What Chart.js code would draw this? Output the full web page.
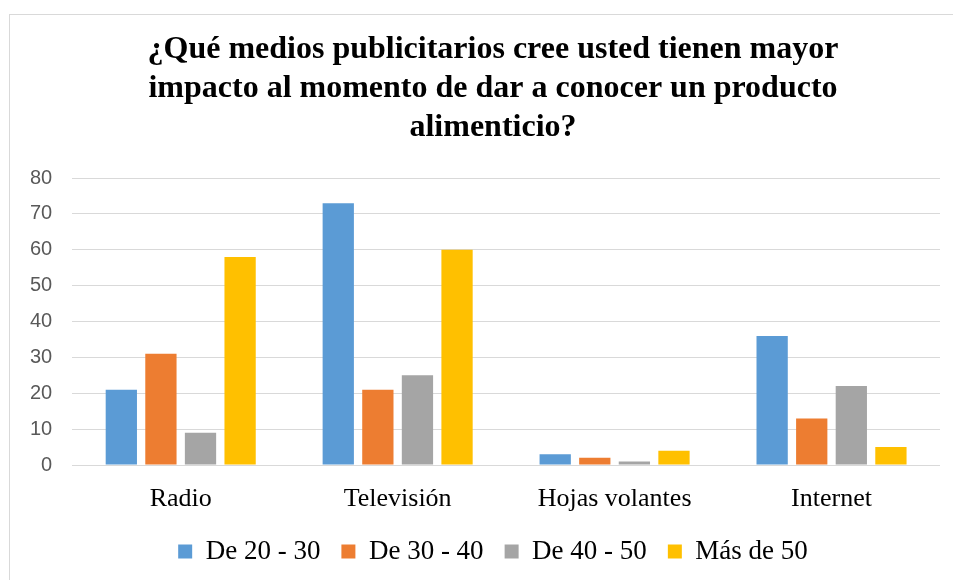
<!DOCTYPE html>
<html>
<head>
<meta charset="utf-8">
<script src="https://cdn.jsdelivr.net/npm/chart.js@4/dist/chart.umd.min.js"></script>
<style>
  html, body { margin: 0; padding: 0; background: #fff; overflow: hidden; }
  body { width: 953px; height: 580px; position: relative; }
  #frame { position: absolute; left: 9px; top: 14px; width: 968px; height: 580px;
           border: 1px solid #d9d9d9; box-sizing: border-box; }
  #wrap { position: absolute; left: 9px; top: 14px; width: 968px; height: 566px; }
</style>
</head>
<body>
<div id="frame"></div>
<div id="wrap"><canvas id="chart"></canvas></div>
<script>
// categories and series
const categories = ["Radio", "Televisión", "Hojas volantes", "Internet"];
const seriesNames = ["De 20 - 30", "De 30 - 40", "De 40 - 50", "Más de 50"];
const de20a30 = [21, 73, 3, 36];
const de30a40 = [31, 21, 2, 13];
const de40a50 = [9, 25, 1, 22];
const masDe50 = [58, 60, 4, 5];
const yTicks = [0, 10, 20, 30, 40, 50, 60, 70, 80];

const colors = ["#5B9BD5", "#ED7D31", "#A5A5A5", "#FFC000"];
const values = [de20a30, de30a40, de40a50, masDe50];
const serif = "'Liberation Serif', 'Times New Roman', serif";

const datasets = seriesNames.map((name, i) => ({
    label: name,
    data: values[i],
    backgroundColor: colors[i],
    borderWidth: 0,
    categoryPercentage: 0.73,
    barPercentage: 0.79,
}));

new Chart(document.getElementById("chart"), {
    type: "bar",
    data: { labels: categories, datasets: datasets },
    options: {
        responsive: true,
        maintainAspectRatio: false,
        animation: false,
        layout: { padding: { left: 1, right: 1, top: 0, bottom: 5 } },
        plugins: {
            title: {
                display: true,
                text: [
                    "¿Qué medios publicitarios cree usted tienen mayor",
                    "impacto al momento de dar a conocer un producto",
                    "alimenticio?",
                ],
                color: "#000",
                font: { family: serif, size: 32, weight: "bold", lineHeight: 1.22 },
                padding: { top: 16, bottom: 31 },
            },
            legend: {
                position: "bottom",
                labels: {
                    color: "#000",
                    font: { family: serif, size: 27 },
                    boxWidth: 14,
                    boxHeight: 14,
                    padding: 21,
                },
            },
            tooltip: { enabled: false },
        },
        scales: {
            x: {
                grid: { display: false },
                border: { display: false },
                afterFit: (axis) => { axis.height = 52; },
                ticks: {
                    color: "#000",
                    padding: 13,
                    font: { family: serif, size: 26, lineHeight: 1 },
                },
            },
            y: {
                min: 0,
                max: 80,
                afterBuildTicks: (axis) => { axis.ticks = yTicks.map((v) => ({ value: v })); },
                grid: { color: "#d9d9d9", lineWidth: 1, drawTicks: false },
                border: { display: false },
                ticks: {
                    color: "#595959",
                    padding: 20,
                    font: { family: "'Liberation Sans', Arial, sans-serif", size: 20 },
                },
            },
            // empty right-hand strip so that title and legend centre like the original
            spacer: {
                type: "linear",
                position: "right",
                display: true,
                grid: { display: false, drawOnChartArea: false },
                border: { display: false },
                ticks: { display: false },
                afterFit: (axis) => { axis.width = 36; },
            },
        },
    },
});
</script>
</body>
</html>
